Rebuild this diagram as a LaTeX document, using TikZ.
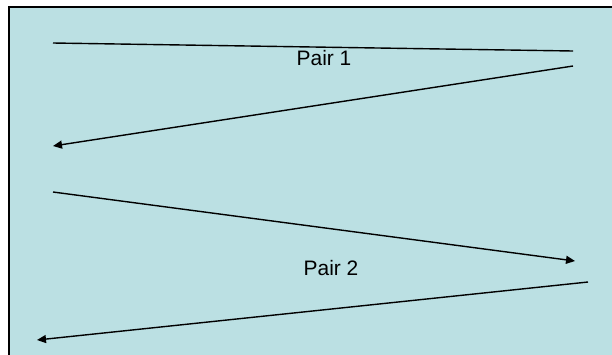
\documentclass[tikz,border=0pt]{standalone}
\usepackage{fontspec}
\setmainfont{Liberation Sans}
\usetikzlibrary{arrows.meta}
\tikzset{
  conn/.style={line width=1.4bp, black},
  arr/.style={conn, -{Triangle[length=9bp,width=8bp]}},
  lbl/.style={font=\fontsize{21}{24}\selectfont, inner sep=0pt, anchor=base}
}
\begin{document}
\begin{tikzpicture}[x=1bp,y=-1bp]
\useasboundingbox (0,0) rectangle (612,354);
\fill[white] (0,0) rectangle (612,354);
\filldraw[fill={rgb,255:red,187;green,224;blue,227}, draw=black, line width=1.5bp] (9,7) rectangle (640,380);
\coordinate (a1) at (53,43);
\coordinate (b1) at (573,51);
\coordinate (a2) at (573,66);
\coordinate (b2) at (53,146);
\coordinate (a3) at (53,192);
\coordinate (b3) at (575,261);
\coordinate (a4) at (588,282);
\coordinate (b4) at (37,340);
\draw[conn] (a1) -- (b1);
\draw[arr] (a2) -- (b2);
\draw[arr] (a3) -- (b3);
\draw[arr] (a4) -- (b4);
\node[lbl] (p1) at (324,65) {Pair 1};
\node[lbl] (p2) at (331,275) {Pair 2};
\end{tikzpicture}
\end{document}
